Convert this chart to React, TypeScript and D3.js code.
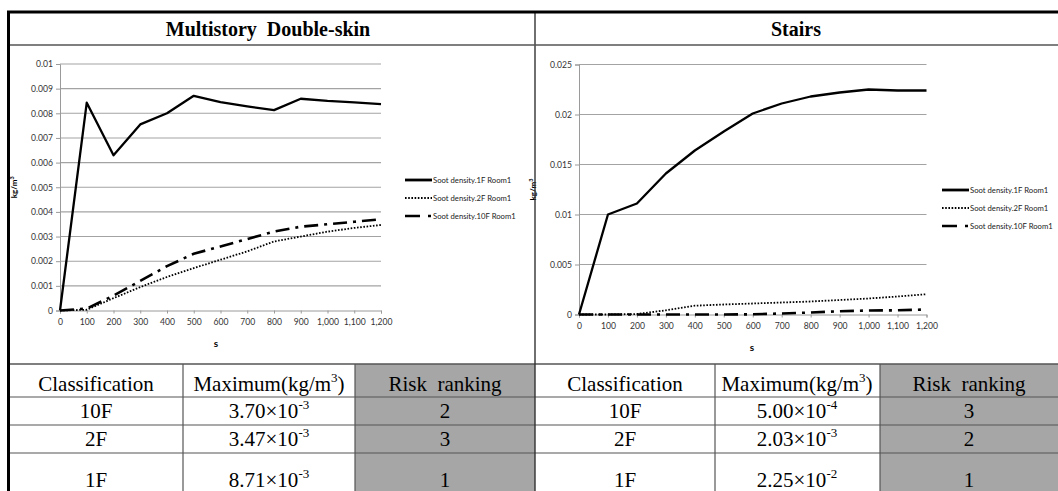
import { useEffect, useRef } from 'react';
import * as d3 from 'd3';

// time axis (s)
const times = [0, 100, 200, 300, 400, 500, 600, 700, 800, 900, 1000, 1100, 1200];

// Multistory Double-skin soot density (kg/m3)
const msd1F = [0, 0.00843, 0.0063, 0.00755, 0.008, 0.00871, 0.00845, 0.00828, 0.00813, 0.00859, 0.0085, 0.00844, 0.00837];
const msd2F = [0, 0.00003, 0.0005, 0.00095, 0.00136, 0.00172, 0.00206, 0.0024, 0.0028, 0.003, 0.0032, 0.00335, 0.00347];
const msd10F = [0, 0.00008, 0.0006, 0.0012, 0.0018, 0.0023, 0.0026, 0.0029, 0.0032, 0.0034, 0.0035, 0.0036, 0.0037];

// Stairs soot density (kg/m3)
const st1F = [0, 0.01, 0.0111, 0.0141, 0.0164, 0.0183, 0.0201, 0.0211, 0.0218, 0.0222, 0.0225, 0.0224, 0.0224];
const st2F = [0, 0, 0.00005, 0.00042, 0.00088, 0.001, 0.0011, 0.0012, 0.0013, 0.00145, 0.0016, 0.0018, 0.00203];
const st10F = [0, 0, 0, 0, 0, 0, 0.00002, 0.0001, 0.0002, 0.00032, 0.0004, 0.00042, 0.0005];

const seriesNames = ['Soot density.1F Room1', 'Soot density.2F Room1', 'Soot density.10F Room1'];

// table rows
const classes = ['10F', '2F', '1F'];
const msdMantissa = ['3.70', '3.47', '8.71'];
const msdExp = ['-3', '-3', '-3'];
const msdRank = ['2', '3', '1'];
const stMantissa = ['5.00', '2.03', '2.25'];
const stExp = ['-4', '-3', '-2'];
const stRank = ['3', '2', '1'];

const W = 1058;
const H = 491;
const serif = "'Liberation Serif', 'Times New Roman', serif";
const sans = "Lato, 'Open Sans', sans-serif";

const styles = [
  { dash: null, width: 2.3 },
  { dash: '1.6,1.6', width: 1.8 },
  { dash: '14,6,3,6', width: 2.6 },
];

function drawChart(svg, opts) {
  const { left, right, top, bottom, yMax, yStep, series, labelX, legendX, legendY } = opts;
  const x = d3.scaleLinear().domain([0, 1200]).range([left, right]);
  const y = d3.scaleLinear().domain([0, yMax]).range([bottom, top]);
  const g = svg.append('g');

  const yTicks = d3.range(0, yMax + yStep / 2, yStep);
  // gridlines
  g.append('g')
    .selectAll('line')
    .data(yTicks.slice(1))
    .join('line')
    .attr('x1', left)
    .attr('x2', right)
    .attr('y1', d => y(d))
    .attr('y2', d => y(d))
    .attr('stroke', '#a3a3a3')
    .attr('stroke-width', 1.1);

  const fmtY = d => (d === 0 ? '0' : String(+d.toFixed(4)));
  const yAxis = g.append('g')
    .attr('transform', `translate(${left},0)`)
    .call(d3.axisLeft(y).tickValues(yTicks).tickFormat(fmtY).tickSize(4).tickPadding(3));
  const xAxis = g.append('g')
    .attr('transform', `translate(0,${bottom})`)
    .call(d3.axisBottom(x).tickValues(times).tickFormat(d3.format(',')).tickSize(3).tickPadding(5));
  [yAxis, xAxis].forEach(a => {
    a.select('.domain').attr('stroke', '#9a9a9a');
    a.selectAll('.tick line').attr('stroke', '#9a9a9a');
    a.selectAll('text').attr('font-family', sans).attr('font-size', 8.6).attr('fill', '#333');
  });

  const line = d3.line().x((d, i) => x(times[i])).y(d => y(d));
  series.forEach((s, i) => {
    g.append('path')
      .datum(s)
      .attr('d', line)
      .attr('fill', 'none')
      .attr('stroke', '#000')
      .attr('stroke-width', styles[i].width)
      .attr('stroke-linejoin', 'round')
      .attr('stroke-dasharray', styles[i].dash);
  });

  // axis titles
  g.append('text')
    .attr('x', labelX)
    .attr('y', bottom + 36)
    .attr('text-anchor', 'middle')
    .attr('font-family', sans)
    .attr('font-weight', 700)
    .attr('font-size', 10)
    .text('s');
  const yl = g.append('text')
    .attr('transform', `translate(${left - 43},${(top + bottom) / 2}) rotate(-90)`)
    .attr('text-anchor', 'middle')
    .attr('font-family', sans)
    .attr('font-weight', 700)
    .attr('font-size', 8);
  yl.append('tspan').text('kg/m');
  yl.append('tspan').attr('font-size', 5.5).attr('dy', -3).text('3');

  // legend
  seriesNames.forEach((name, i) => {
    const ly = legendY + i * 18;
    g.append('line')
      .attr('x1', legendX)
      .attr('x2', legendX + 27)
      .attr('y1', ly)
      .attr('y2', ly)
      .attr('stroke', '#000')
      .attr('stroke-width', i === 0 ? 2.8 : styles[i].width)
      .attr('stroke-dasharray', i === 2 ? '15,8,3,6' : styles[i].dash);
    g.append('text')
      .attr('x', legendX + 28)
      .attr('y', ly + 3)
      .attr('font-family', sans)
      .attr('font-size', 7.7)
      .attr('fill', '#222')
      .text(name);
  });
}

export default function App() {
  const ref = useRef(null);

  useEffect(() => {
    const svg = d3.select(ref.current);
    svg.selectAll('*').remove();

    // frame
    svg.append('rect').attr('width', W).attr('height', H).attr('fill', '#fff');

    // table gray cells
    const rowLines = [364, 397, 425, 453, 500];
    const grayCols = [[355, 535], [880, 1058]];
    grayCols.forEach(([a, b]) => {
      svg.append('rect')
        .attr('x', a).attr('y', rowLines[0])
        .attr('width', b - a).attr('height', H - rowLines[0])
        .attr('fill', '#a6a6a6');
    });

    drawChart(svg, {
      left: 60, right: 381, top: 64, bottom: 310.5, yMax: 0.01, yStep: 0.001,
      series: [msd1F, msd2F, msd10F], labelX: 216, legendX: 405, legendY: 180,
    });
    drawChart(svg, {
      left: 579, right: 926.5, top: 64.5, bottom: 314.5, yMax: 0.025, yStep: 0.005,
      series: [st1F, st2F, st10F], labelX: 752, legendX: 942, legendY: 190,
    });

    // titles
    svg.append('text')
      .attr('x', 268).attr('y', 36)
      .attr('text-anchor', 'middle')
      .attr('font-family', serif).attr('font-weight', 700).attr('font-size', 20)
      .attr('xml:space', 'preserve')
      .style('white-space', 'pre')
      .text('Multistory  Double-skin');
    svg.append('text')
      .attr('x', 796).attr('y', 36)
      .attr('text-anchor', 'middle')
      .attr('font-family', serif).attr('font-weight', 700).attr('font-size', 20)
      .text('Stairs');

    // table lines
    const lineColor = '#555';
    rowLines.slice(0, 4).forEach(yv => {
      svg.append('line').attr('x1', 8).attr('x2', W).attr('y1', yv).attr('y2', yv)
        .attr('stroke', lineColor).attr('stroke-width', yv === 364 ? 1.6 : 1.2);
    });
    [183, 355, 715, 880].forEach(xv => {
      svg.append('line').attr('x1', xv).attr('x2', xv).attr('y1', 364).attr('y2', H)
        .attr('stroke', lineColor).attr('stroke-width', 1.2);
    });
    // panel divider, title rule, outer border
    svg.append('line').attr('x1', 535).attr('x2', 535).attr('y1', 12).attr('y2', H)
      .attr('stroke', '#333').attr('stroke-width', 1.4);
    svg.append('line').attr('x1', 8).attr('x2', W).attr('y1', 45).attr('y2', 45)
      .attr('stroke', '#555').attr('stroke-width', 1.4);
    svg.append('line').attr('x1', 7).attr('x2', W).attr('y1', 12).attr('y2', 12)
      .attr('stroke', '#000').attr('stroke-width', 3);
    svg.append('line').attr('x1', 8.5).attr('x2', 8.5).attr('y1', 11).attr('y2', H)
      .attr('stroke', '#000').attr('stroke-width', 3);

    // table text
    const colCenters = [
      [96, 269, 445],
      [625, 797, 969],
    ];
    const baselines = [391, 418, 446, 487];
    const tables = [
      { mant: msdMantissa, exp: msdExp, rank: msdRank },
      { mant: stMantissa, exp: stExp, rank: stRank },
    ];
    const txt = (xv, yv) =>
      svg.append('text')
        .attr('x', xv).attr('y', yv)
        .attr('text-anchor', 'middle')
        .attr('font-family', serif).attr('font-size', 21).attr('fill', '#000');

    tables.forEach((t, ti) => {
      const [c1, c2, c3] = colCenters[ti];
      txt(c1, baselines[0]).text('Classification');
      const h = txt(c2, baselines[0]);
      h.append('tspan').text('Maximum(kg/m');
      h.append('tspan').attr('font-size', 13).attr('dy', -9).text('3');
      h.append('tspan').attr('dy', 9).text(')');
      txt(c3, baselines[0]).attr('xml:space', 'preserve').style('white-space', 'pre').text('Risk  ranking');

      classes.forEach((c, i) => {
        const yv = baselines[i + 1];
        txt(c1, yv).text(c);
        const v = txt(c2, yv);
        v.append('tspan').text(`${t.mant[i]}×10`);
        v.append('tspan').attr('font-size', 13).attr('dy', -9).text(t.exp[i]);
        txt(c3, yv).text(t.rank[i]);
      });
    });
  }, []);

  return (
    <div>
      <style>{'body{margin:0}'}</style>
      <svg ref={ref} width={W} height={H} style={{ display: 'block' }} />
    </div>
  );
}
